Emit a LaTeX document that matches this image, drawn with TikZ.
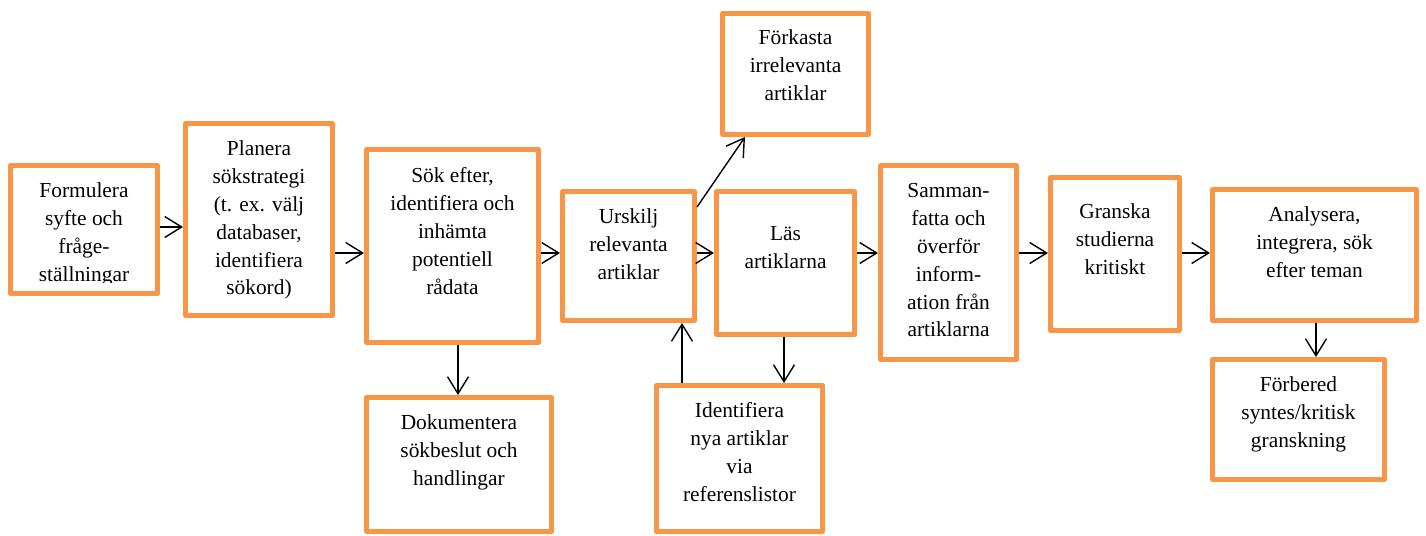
\documentclass[tikz,border=0pt]{standalone}
\usepackage{fontspec}
\setmainfont{Liberation Serif}
\usetikzlibrary{arrows.meta,calc}
\definecolor{boxorange}{RGB}{247,150,70}
\tikzset{
  bx/.style={draw=boxorange, line width=2.5pt, line join=round, inner sep=0pt, fill=white},
  txt/.style={align=center, inner sep=0pt, font=\fontsize{10.7}{13.95}\selectfont, anchor=north},
  arr/.style={-{Straight Barb[length=8.5pt,width=10.5pt]}, line width=0.7pt, black},
}
\newcommand{\mkbox}[6]{%
  \node[bx, minimum width={(#4-#2)*0.5pt}, minimum height={(#5-#3)*0.5pt}] (#1) at ({(#2+#4)/2},{(#3+#5)/2}) {};
  \coordinate (#1-tp) at ({(#2+#4)/2},{#3+#6-19.53});
}
\begin{document}
\begin{tikzpicture}[x=0.5pt,y=-0.5pt]
\useasboundingbox (0,0) rectangle (1426,536);
% boxes
\mkbox{form}{10.5}{165.5}{157.5}{293.5}{31.5}
\mkbox{plan}{185.5}{123.5}{332.5}{315.5}{31.5}
\mkbox{sok}{366.5}{149.5}{538.5}{342.5}{32.5}
\mkbox{dok}{366.5}{397.5}{551.5}{531.5}{31.5}
\mkbox{urs}{562.5}{191.5}{694.5}{320.5}{31.5}
\mkbox{fork}{722.5}{13.5}{868.5}{134.5}{30.5}
\mkbox{las}{716.5}{191.5}{854.5}{334.5}{49}
\mkbox{ident}{656.5}{385.5}{822.5}{531.5}{32}
\mkbox{samm}{880.5}{165.5}{1016.5}{359.5}{31.5}
\mkbox{gran}{1050.5}{177.5}{1179.5}{330.5}{41}
\mkbox{anal}{1212.5}{189.5}{1416.5}{320.5}{31.5}
\mkbox{forb}{1212.5}{359.5}{1384.5}{479.5}{31.5}
% texts
\begin{scope}
  \clip (13,168) rectangle (155,282);
  \node[txt] (form-t) at (form-tp) {\strut Formulera\\syfte och\\fråge-\\ställningar};
\end{scope}
\node[txt] (plan-t) at (plan-tp) {\strut Planera\\sökstrategi\\(t. ex. välj\\databaser,\\identifiera\\sökord)};
\node[txt] (sok-t) at (sok-tp) {\strut Sök efter,\\identifiera och\\inhämta\\potentiell\\rådata};
\node[txt] (dok-t) at (dok-tp) {\strut Dokumentera\\sökbeslut och\\handlingar};
\node[txt] (urs-t) at (urs-tp) {\strut Urskilj\\relevanta\\artiklar};
\node[txt] (fork-t) at (fork-tp) {\strut Förkasta\\irrelevanta\\artiklar};
\node[txt] (las-t) at (las-tp) {\strut Läs\\artiklarna};
\node[txt] (ident-t) at (ident-tp) {\strut Identifiera\\nya artiklar\\via\\referenslistor};
\node[txt] (samm-t) at (samm-tp) {\strut Samman-\\fatta och\\överför\\inform-\\ation från\\artiklarna};
\node[txt] (gran-t) at (gran-tp) {\strut Granska\\studierna\\kritiskt};
\node[txt] (anal-t) at (anal-tp) {\strut Analysera,\\integrera, sök\\efter teman};
\node[txt] (forb-t) at (forb-tp) {\strut Förbered\\syntes/kritisk\\granskning};
% helper coordinates
\coordinate (r1) at (0,227);
\coordinate (rm) at (0,253);
\coordinate (v1) at (458,0);
\coordinate (v2) at (784,0);
\coordinate (v3) at (682,0);
\coordinate (v4) at (1316,0);
\coordinate (d1) at (0,207);
\coordinate (d2) at (745,0);
% arrows
\draw[arr] (form.east |- r1) -- (plan.west |- r1);
\draw[arr] (plan.east |- rm) -- (sok.west |- rm);
\draw[arr] (sok.east |- rm) -- (urs.west |- rm);
\draw[arr] (urs.east |- rm) -- (las.west |- rm);
\draw[arr] (las.east |- rm) -- (samm.west |- rm);
\draw[arr] (samm.east |- rm) -- (gran.west |- rm);
\draw[arr] (gran.east |- rm) -- (anal.west |- rm);
\draw[arr] (sok.south -| v1) -- (dok.north -| v1);
\draw[arr] (las.south -| v2) -- (ident.north -| v2);
\draw[arr] (ident.north -| v3) -- (urs.south -| v3);
\draw[arr] (anal.south -| v4) -- (forb.north -| v4);
\draw[arr] (urs.east |- d1) -- (fork.south -| d2);
\end{tikzpicture}
\end{document}
